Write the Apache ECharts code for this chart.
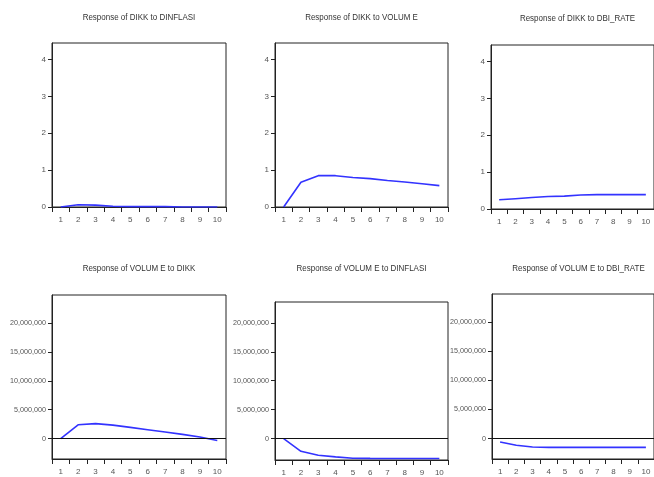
<!DOCTYPE html>
<html>
<head>
<meta charset="utf-8">
<script src="https://cdn.jsdelivr.net/npm/echarts@6/dist/echarts.min.js"></script>
<style>
html,body{margin:0;padding:0;background:#fff;}
#c{width:654px;height:477px;}
</style>
</head>
<body>
<div id="c"></div>
<script>
// ---- data ----
const periods = ['1','2','3','4','5','6','7','8','9','10'];
const topTicks = [0, 1, 2, 3, 4];
const bottomTicks = [0, 5000000, 10000000, 15000000, 20000000];
const titles = [
  'Response of DIKK to DINFLASI',
  'Response of DIKK to VOLUM E',
  'Response of DIKK to DBI_RATE',
  'Response of VOLUM E to DIKK',
  'Response of VOLUM E to DINFLASI',
  'Response of VOLUM E to DBI_RATE'
];
const dikkToDinflasi = [0.0, 0.06, 0.05, 0.02, 0.01, 0.01, 0.01, 0.0, 0.0, 0.0];
const dikkToVolume = [0.0, 0.67, 0.85, 0.85, 0.80, 0.77, 0.72, 0.68, 0.63, 0.58];
const dikkToDbiRate = [0.25, 0.28, 0.31, 0.34, 0.35, 0.38, 0.39, 0.39, 0.39, 0.39];
const volumeToDikk = [0, 2400000, 2600000, 2350000, 1950000, 1550000, 1150000, 750000, 300000, -300000];
const volumeToDinflasi = [0, -2200000, -2870000, -3160000, -3390000, -3420000, -3430000, -3440000, -3440000, -3440000];
const volumeToDbiRate = [-570000, -1150000, -1440000, -1500000, -1500000, -1500000, -1500000, -1500000, -1500000, -1500000];

const seriesData = [dikkToDinflasi, dikkToVolume, dikkToDbiRate, volumeToDikk, volumeToDinflasi, volumeToDbiRate];

// ---- layout ----
const grids = [
  {left: 52, top: 43, width: 174, height: 164},
  {left: 275, top: 43, width: 173, height: 164},
  {left: 491, top: 45, width: 173, height: 164},
  {left: 52, top: 295, width: 174, height: 164},
  {left: 275, top: 302, width: 173, height: 158},
  {left: 492, top: 294, width: 173, height: 165}
];
const yRanges = [
  [0, 4.45], [0, 4.45], [0, 4.45],
  [-3500000, 24800000], [-3700000, 23600000], [-3500000, 24800000]
];
const titleY = [17, 17, 18, 268, 268, 268];

const FONT = '"Liberation Sans", Arial, sans-serif';
const chart = echarts.init(document.getElementById('c'), null, {renderer: 'canvas'});

const gridOpts = [], xAxes = [], yAxes = [], series = [], graphics = [];
grids.forEach((g, i) => {
  gridOpts.push(Object.assign({show: true, borderColor: '#222', borderWidth: 1, backgroundColor: '#fff'}, g));
  xAxes.push({
    type: 'category', gridIndex: i, data: periods, boundaryGap: true,
    axisLine: {show: true, onZero: false, lineStyle: {color: '#222', width: 1}},
    axisTick: {show: true, length: 5, inside: false, lineStyle: {color: '#222'}},
    axisLabel: {fontFamily: FONT, fontSize: 8, color: '#555', margin: 9},
    splitLine: {show: false}
  });
  const isTop = i < 3;
  yAxes.push({
    type: 'value', gridIndex: i, min: yRanges[i][0], max: yRanges[i][1],
    axisLine: {show: true, lineStyle: {color: '#222', width: 1}},
    axisTick: {show: true, length: 4, lineStyle: {color: '#222'}, customValues: isTop ? topTicks : bottomTicks},
    axisLabel: {
      fontFamily: FONT, fontSize: isTop ? 8 : 7.2, color: '#555', margin: 6,
      customValues: isTop ? topTicks : bottomTicks,
      formatter: v => isTop ? String(v) : Number(v).toLocaleString('en-US')
    },
    splitLine: {show: false}
  });
  const s = {
    type: 'line', xAxisIndex: i, yAxisIndex: i, data: seriesData[i],
    symbol: 'none', lineStyle: {color: '#3333ff', width: 1.6}, animation: false, silent: true
  };
  if (!isTop) {
    s.markLine = {
      silent: true, symbol: 'none', animation: false,
      label: {show: false},
      lineStyle: {color: '#111', width: 1, type: 'solid'},
      data: [{yAxis: 0}]
    };
  }
  series.push(s);
  graphics.push({
    type: 'text', x: g.left + g.width / 2, y: titleY[i], scaleX: 0.84,
    style: {text: titles[i], font: '9.5px ' + FONT, fill: '#333', align: 'center', verticalAlign: 'middle', textAlign: 'center', textVerticalAlign: 'middle'}
  });
});

chart.setOption({
  animation: false,
  backgroundColor: '#fff',
  grid: gridOpts,
  xAxis: xAxes,
  yAxis: yAxes,
  series: series,
  graphic: graphics
});
</script>
</body>
</html>
